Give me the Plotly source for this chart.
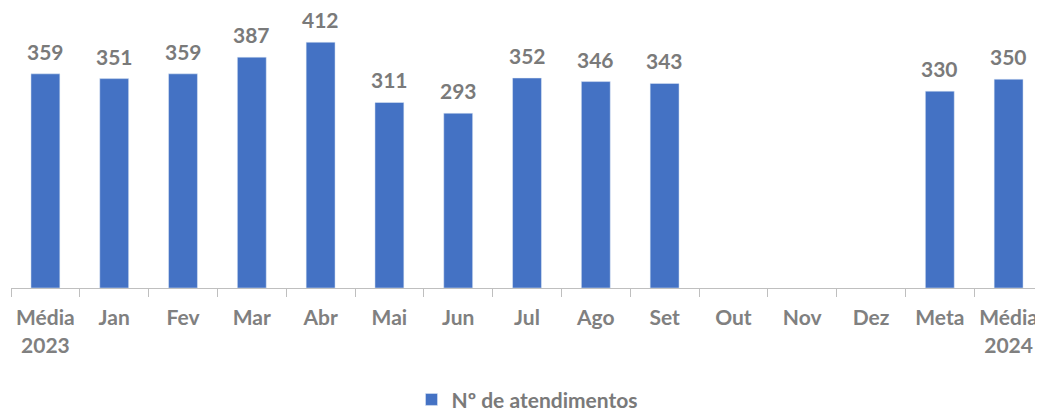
import plotly.graph_objects as go

categories = ["Média<br>2023", "Jan", "Fev", "Mar", "Abr", "Mai", "Jun", "Jul",
              "Ago", "Set", "Out", "Nov", "Dez", "Meta", "Média<br>2024"]
values = [359, 351, 359, 387, 412, 311, 293, 352, 346, 343, None, None, None, 330, 350]
series_name = "Nº de atendimentos"

fig = go.Figure()
fig.add_trace(go.Bar(
    x=categories, y=values, name=series_name,
    marker_color="#4472C4",
    showlegend=True,
))

for c, v in zip(categories, values):
    if v is None:
        continue
    fig.add_annotation(
        x=c, y=v, xref="x", yref="y", text=str(v), showarrow=False,
        yanchor="bottom", yshift=9, borderpad=0,
        font=dict(family="Lato", size=21, color="#7A7A7A", weight="bold"),
    )

fig.update_layout(
    width=1035, height=406,
    margin=dict(l=3, r=0, t=2, b=126, autoexpand=False),
    plot_bgcolor="white", paper_bgcolor="white",
    bargap=0.58,
    showlegend=True,
    legend=dict(orientation="h", x=0.5, xanchor="center",
                yref="container", y=0.035, yanchor="middle",
                font=dict(family="Lato", size=21, color="#7A7A7A", weight="bold")),
    xaxis=dict(
        showline=True, linecolor="#BFBFBF", linewidth=1,
        ticks="outside", tickson="boundaries", ticklen=8, tickcolor="#BFBFBF",
        ticklabelstandoff=11,
        tickfont=dict(family="Lato", size=21, color="#808080", weight="bold"),
        showgrid=False,
    ),
    yaxis=dict(range=[0, 466], visible=False, showgrid=False),
)

fig.write_html("out.html")
